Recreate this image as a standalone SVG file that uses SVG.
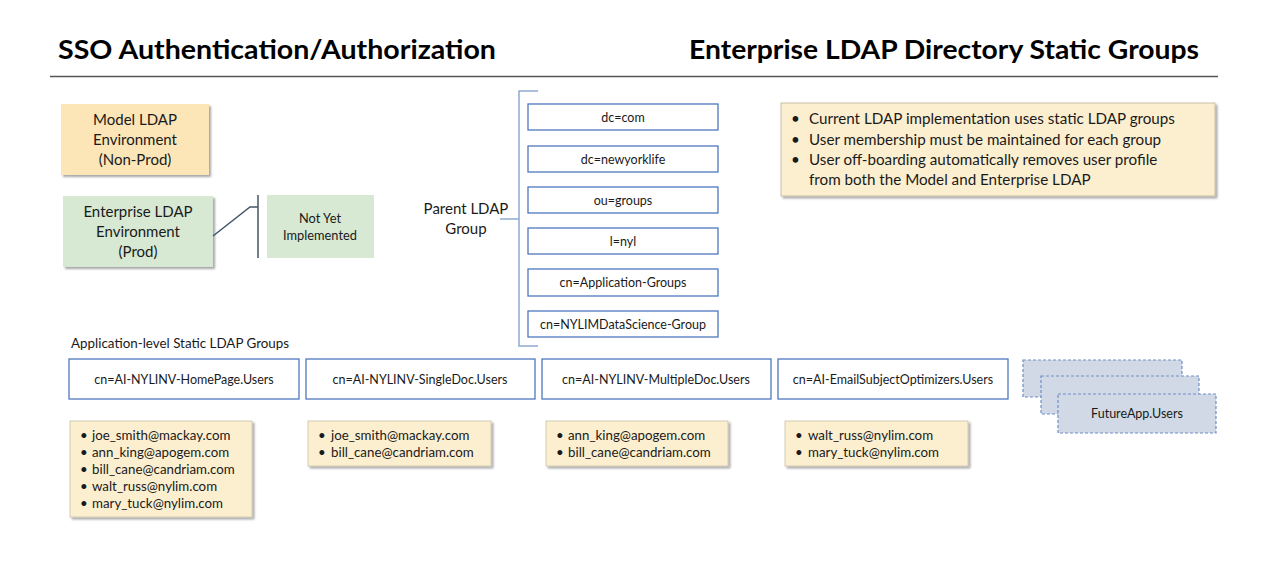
<svg xmlns="http://www.w3.org/2000/svg" width="1280" height="581" viewBox="0 0 1280 581">
<defs>
<filter id="sh" x="-5%" y="-5%" width="115%" height="125%">
<feDropShadow dx="2" dy="2" stdDeviation="1" flood-color="#000" flood-opacity="0.35"/>
</filter>
<style>
text{font-family:Lato,"Open Sans","Liberation Sans",sans-serif;fill:#1a1a1a}
.title{font-size:26px;font-weight:bold;fill:#000}
.env{font-size:15px;text-anchor:middle}
.dn{font-size:12.5px;text-anchor:middle}
.dnbox{fill:#fff;stroke:#4f78bd;stroke-width:1.3}
.grp{fill:#fff;stroke:#4f78bd;stroke-width:1.3}
.mail{fill:#fcefd0;stroke:#c9c0a8;stroke-width:0.8}
.em{font-size:13.3px}
.info{font-size:15.2px}
.fut{fill:#d0d9e5;stroke:#6e8fc7;stroke-width:1.2;stroke-dasharray:3 2}
.br{fill:none;stroke:#8eaad0;stroke-width:1.5}
</style>
</defs>
<rect width="1280" height="581" fill="#fff"/>
<g id="titles">
<text class="title" x="58" y="59" textLength="438" lengthAdjust="spacingAndGlyphs">SSO Authentication/Authorization</text>
<text class="title" x="689" y="59" textLength="510" lengthAdjust="spacingAndGlyphs">Enterprise LDAP Directory Static Groups</text>
<line x1="50" y1="76.5" x2="1218" y2="76.5" stroke="#555" stroke-width="1.3"/>
</g>
<g id="model-ldap">
<rect x="61" y="104" width="148" height="71" fill="#fce6b8" filter="url(#sh)"/>
<text class="env" x="135" y="125">Model LDAP</text>
<text class="env" x="135" y="145">Environment</text>
<text class="env" x="135" y="165">(Non-Prod)</text>
</g>
<g id="enterprise-ldap">
<rect x="63" y="196" width="150" height="71" fill="#d7e8d3" filter="url(#sh)"/>
<text class="env" x="138" y="217">Enterprise LDAP</text>
<text class="env" x="138" y="237">Environment</text>
<text class="env" x="138" y="257">(Prod)</text>
</g>
<g id="not-yet">
<rect x="267" y="195" width="107" height="63" fill="#d7e8d3"/>
<text x="320" y="223" style="font-size:12.8px;text-anchor:middle">Not Yet</text>
<text x="320" y="240" style="font-size:12.8px;text-anchor:middle">Implemented</text>
</g>
<g id="parent-label">
<text class="env" x="466" y="214">Parent LDAP</text>
<text class="env" x="466" y="234">Group</text>
</g>
<g id="dn-boxes">
<rect class="dnbox" x="528" y="104" width="190" height="26"/>
<text class="dn" x="623" y="122">dc=com</text>
<rect class="dnbox" x="528" y="146" width="190" height="26"/>
<text class="dn" x="623" y="164">dc=newyorklife</text>
<rect class="dnbox" x="528" y="187" width="190" height="26"/>
<text class="dn" x="623" y="205">ou=groups</text>
<rect class="dnbox" x="528" y="228" width="190" height="26"/>
<text class="dn" x="623" y="246">l=nyl</text>
<rect class="dnbox" x="528" y="269" width="190" height="27"/>
<text class="dn" x="623" y="287">cn=Application-Groups</text>
<rect class="dnbox" x="528" y="311" width="190" height="26"/>
<text class="dn" x="623" y="329">cn=NYLIMDataScience-Group</text>
</g>
<g id="info">
<rect x="781" y="103" width="434" height="93" fill="#fcefd0" stroke="#bdb39a" stroke-width="0.8" filter="url(#sh)"/>
<text class="info" x="791" y="124">•</text><text class="info" x="809" y="124">Current LDAP implementation uses static LDAP groups</text>
<text class="info" x="791" y="145">•</text><text class="info" x="809" y="145">User membership must be maintained for each group</text>
<text class="info" x="791" y="165">•</text><text class="info" x="809" y="165">User off-boarding automatically removes user profile</text>
<text class="info" x="809" y="185">from both the Model and Enterprise LDAP</text>
</g>
<g id="app-label">
<text x="71" y="348" style="font-size:13.4px">Application-level Static LDAP Groups</text>
</g>
<g id="app-groups">
<rect class="grp" x="69" y="359" width="230" height="40"/>
<text class="dn" x="184" y="384">cn=AI-NYLINV-HomePage.Users</text>
<rect class="grp" x="306" y="359" width="229" height="40"/>
<text class="dn" x="420" y="384">cn=AI-NYLINV-SingleDoc.Users</text>
<rect class="grp" x="542" y="359" width="229" height="40"/>
<text class="dn" x="656" y="384">cn=AI-NYLINV-MultipleDoc.Users</text>
<rect class="grp" x="778" y="359" width="230" height="40"/>
<text class="dn" x="893" y="384">cn=AI-EmailSubjectOptimizers.Users</text>
</g>
<g id="future-apps">
<rect class="fut" x="1023" y="360" width="159" height="37"/>
<rect class="fut" x="1041" y="376" width="158" height="38"/>
<rect class="fut" x="1058" y="394" width="158" height="39"/>
<text class="dn" x="1137" y="418">FutureApp.Users</text>
</g>
<g id="members">
<rect class="mail" x="70" y="421" width="182" height="96" filter="url(#sh)"/>
<text class="em" x="80" y="440">•</text><text class="em" x="92" y="440">joe_smith@mackay.com</text>
<text class="em" x="80" y="457">•</text><text class="em" x="92" y="457">ann_king@apogem.com</text>
<text class="em" x="80" y="474">•</text><text class="em" x="92" y="474">bill_cane@candriam.com</text>
<text class="em" x="80" y="491">•</text><text class="em" x="92" y="491">walt_russ@nylim.com</text>
<text class="em" x="80" y="508">•</text><text class="em" x="92" y="508">mary_tuck@nylim.com</text>
<rect class="mail" x="308" y="421" width="183" height="45" filter="url(#sh)"/>
<text class="em" x="318" y="440">•</text><text class="em" x="331" y="440">joe_smith@mackay.com</text>
<text class="em" x="318" y="457">•</text><text class="em" x="331" y="457">bill_cane@candriam.com</text>
<rect class="mail" x="546" y="421" width="182" height="45" filter="url(#sh)"/>
<text class="em" x="556" y="440">•</text><text class="em" x="568" y="440">ann_king@apogem.com</text>
<text class="em" x="556" y="457">•</text><text class="em" x="568" y="457">bill_cane@candriam.com</text>
<rect class="mail" x="785" y="421" width="183" height="45" filter="url(#sh)"/>
<text class="em" x="795" y="440">•</text><text class="em" x="808" y="440">walt_russ@nylim.com</text>
<text class="em" x="795" y="457">•</text><text class="em" x="808" y="457">mary_tuck@nylim.com</text>
</g>
<g id="connectors">
<path d="M213 236 L250 207 L258 207" fill="none" stroke="#44546a" stroke-width="1.5"/>
<line x1="258" y1="195" x2="258" y2="258" stroke="#44546a" stroke-width="1.5"/>
<path class="br" d="M538 91 L519 91 L519 346 L538 346 M519 219 L500 219"/>
</g>
</svg>
